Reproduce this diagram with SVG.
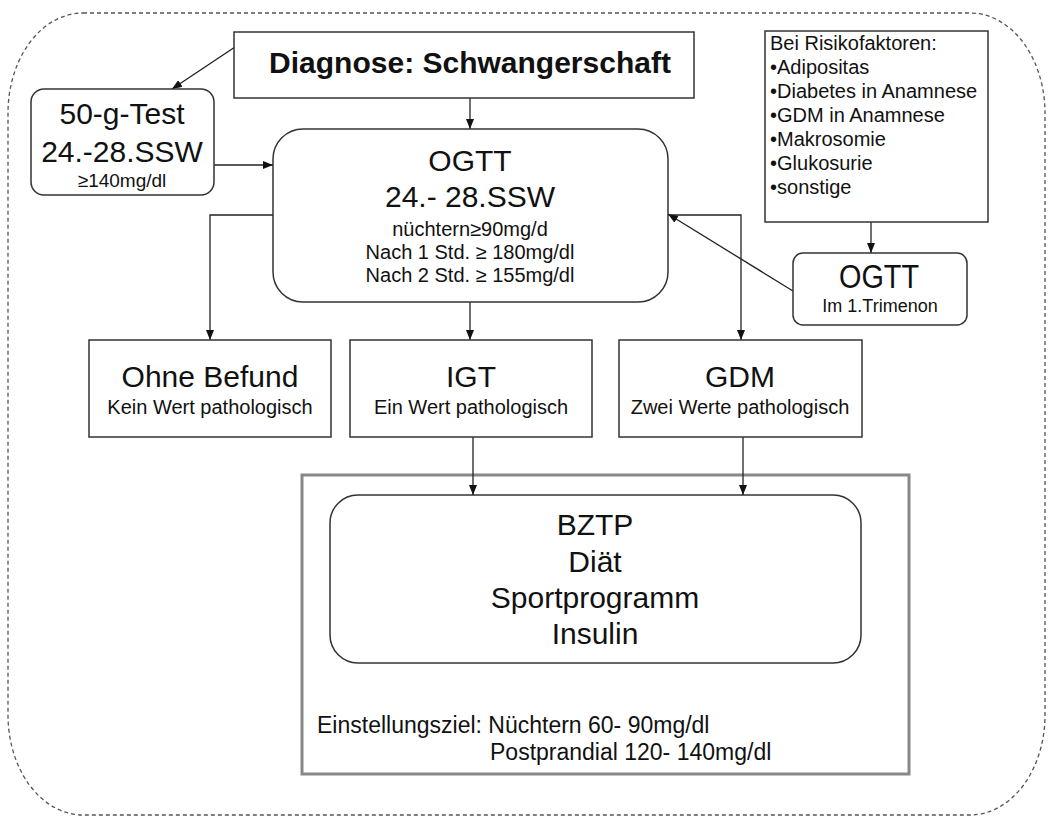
<svg xmlns="http://www.w3.org/2000/svg" width="1049" height="818" viewBox="0 0 1049 818">
  <style>
    text { font-family: "Liberation Sans", Arial, sans-serif; fill: #111; }
    .box { fill: #fff; stroke: #333; stroke-width: 1.5; }
    .conn { fill: none; stroke: #222; stroke-width: 1.3; }
    .c { text-anchor: middle; }
    .big { font-size: 30px; }
    .mid { font-size: 20px; }
    .small { font-size: 18px; }
  </style>
  <defs>
    <marker id="arrow" markerUnits="userSpaceOnUse" markerWidth="10" markerHeight="8" refX="10" refY="4" orient="auto">
      <path d="M0,0 L10,4 L0,8 z" fill="#111"/>
    </marker>
  </defs>

  <rect width="1049" height="818" fill="#fff"/>

  <!-- dashed outer frame -->
  <rect x="8" y="13" width="1037" height="802" rx="75" ry="100" fill="none" stroke="#555" stroke-width="1.3" stroke-dasharray="4 3"/>

  <!-- therapy frame -->
  <g id="therapie">
    <rect x="302" y="475" width="607" height="299" fill="#fff" stroke="#888" stroke-width="3"/>
    <rect class="box" x="330" y="495" width="531" height="168" rx="28" ry="28"/>
    <text class="c big" x="595" y="535">BZTP</text>
    <text class="c big" x="595" y="572">Diät</text>
    <text class="c big" x="595" y="608">Sportprogramm</text>
    <text class="c big" x="595" y="644">Insulin</text>
    <text x="317" y="733" font-size="23">Einstellungsziel: Nüchtern 60- 90mg/dl</text>
    <text x="490" y="760" font-size="23">Postprandial 120- 140mg/dl</text>
  </g>

  <g id="connectors">
    <line class="conn" x1="235" y1="47" x2="172" y2="89" marker-end="url(#arrow)"/>
    <line class="conn" x1="470" y1="98" x2="470" y2="129" marker-end="url(#arrow)"/>
    <line class="conn" x1="214" y1="165" x2="273" y2="165" marker-end="url(#arrow)"/>
    <line class="conn" x1="871" y1="222" x2="871" y2="253" marker-end="url(#arrow)"/>
    <line class="conn" x1="793" y1="291" x2="668" y2="214" marker-end="url(#arrow)"/>
    <polyline class="conn" points="273,215 210,215 210,340" marker-end="url(#arrow)"/>
    <line class="conn" x1="470" y1="302" x2="470" y2="340" marker-end="url(#arrow)"/>
    <polyline class="conn" points="668,215 741,215 741,340" marker-end="url(#arrow)"/>
    <line class="conn" x1="473" y1="437" x2="473" y2="495" marker-end="url(#arrow)"/>
    <line class="conn" x1="743" y1="437" x2="743" y2="495" marker-end="url(#arrow)"/>
  </g>

  <g id="diagnose">
    <rect class="box" x="234" y="32" width="460" height="66"/>
    <text class="c" x="470" y="73" font-size="30" font-weight="bold">Diagnose: Schwangerschaft</text>
  </g>

  <g id="risikofaktoren">
    <rect class="box" x="765" y="31" width="223" height="191"/>
    <text class="mid" x="770" y="50">Bei Risikofaktoren:</text>
    <text class="mid" x="770" y="74">•Adipositas</text>
    <text class="mid" x="770" y="98">•Diabetes in Anamnese</text>
    <text class="mid" x="770" y="122">•GDM in Anamnese</text>
    <text class="mid" x="770" y="146">•Makrosomie</text>
    <text class="mid" x="770" y="170">•Glukosurie</text>
    <text class="mid" x="770" y="194">•sonstige</text>
  </g>

  <g id="test50g">
    <rect class="box" x="31" y="89" width="183" height="106" rx="13" ry="13"/>
    <text class="c big" x="122" y="124">50-g-Test</text>
    <text class="c big" x="122" y="162">24.-28.SSW</text>
    <text class="c" x="122" y="187" font-size="19">≥140mg/dl</text>
  </g>

  <g id="ogtt-main">
    <rect class="box" x="273" y="129" width="395" height="173" rx="30" ry="30"/>
    <text class="c big" x="470" y="171">OGTT</text>
    <text class="c big" x="470" y="207">24.- 28.SSW</text>
    <text class="c mid" x="470" y="236">nüchtern≥90mg/d</text>
    <text class="c mid" x="470" y="259">Nach 1 Std. ≥ 180mg/dl</text>
    <text class="c mid" x="470" y="282">Nach 2 Std. ≥ 155mg/dl</text>
  </g>

  <g id="ogtt-trimenon">
    <rect class="box" x="793" y="253" width="174" height="72" rx="10" ry="10"/>
    <text class="c" x="879" y="288" font-size="33" textLength="80" lengthAdjust="spacingAndGlyphs">OGTT</text>
    <text class="c small" x="880" y="312">Im 1.Trimenon</text>
  </g>

  <g id="ohne-befund">
    <rect class="box" x="89" y="340" width="242" height="97"/>
    <text class="c big" x="210" y="387">Ohne Befund</text>
    <text class="c mid" x="210" y="414">Kein Wert pathologisch</text>
  </g>

  <g id="igt">
    <rect class="box" x="350" y="340" width="242" height="97"/>
    <text class="c big" x="471" y="387">IGT</text>
    <text class="c mid" x="471" y="414">Ein Wert pathologisch</text>
  </g>

  <g id="gdm">
    <rect class="box" x="619" y="340" width="243" height="97"/>
    <text class="c big" x="740" y="387">GDM</text>
    <text class="c mid" x="740" y="414">Zwei Werte pathologisch</text>
  </g>
</svg>
